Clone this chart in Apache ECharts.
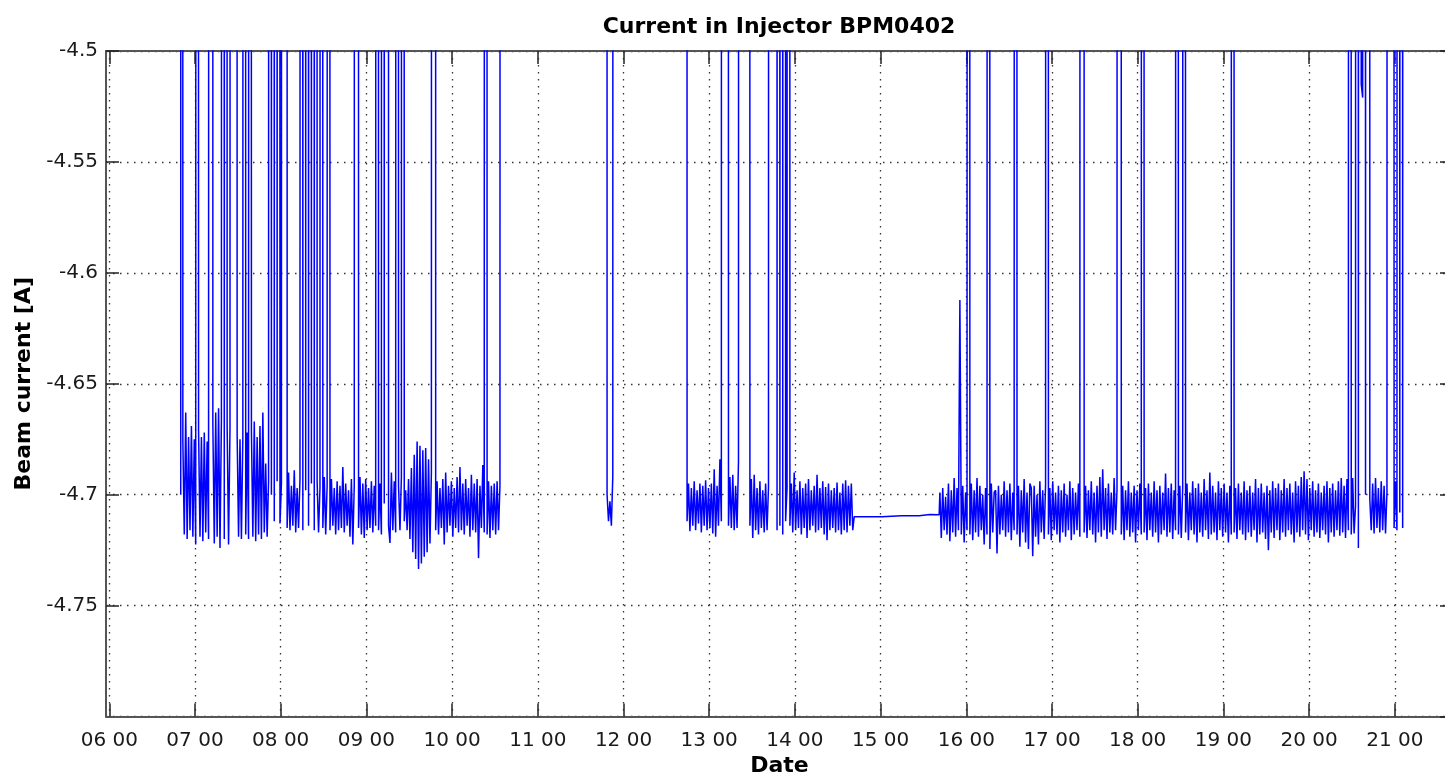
<!DOCTYPE html>
<html>
<head>
<meta charset="utf-8">
<title>Current in Injector BPM0402</title>
<script src="https://cdn.jsdelivr.net/npm/echarts@6/dist/echarts.min.js"></script>
<style>
  html, body { margin: 0; padding: 0; background: #fff; }
  #chart { width: 1445px; height: 775px; }
</style>
</head>
<body>
<div id="chart"></div>
<script>
// beam current samples, one per minute, each run starts at the time in runStarts
// 0 means the beam was off (drawn off the top of the plot)
const runStarts = ["06:50", "11:48", "12:44", "15:01", "15:27", "15:41"];

const morning = [
  -4.700, 0, -4.676, -4.718, -4.663, -4.720, -4.674, -4.716, -4.669, -4.719,
  -4.675, -4.7225, 0, -4.671, -4.719, -4.674, -4.721, -4.672, -4.717, -4.676,
  -4.720, 0, 0, -4.668, -4.722, -4.663, -4.719, -4.661, -4.724, -4.666,
  0, -4.720, 0, -4.669, -4.7225, -4.670, 0, 0, 0, 0,
  -4.673, -4.719, -4.675, -4.720, -4.674, 0, -4.718, -4.672, -4.720, 0,
  -4.671, -4.719, -4.667, -4.721, -4.674, -4.718, -4.669, -4.720, -4.663, -4.717,
  -4.686, -4.719, -4.694, 0, -4.700, 0, -4.712, 0, -4.694, 0,
  -4.713, -4.695, 0, 0, 0, -4.715, -4.690, -4.716, -4.696, -4.714,
  -4.689, -4.717, -4.697, -4.715, -4.693, 0, -4.716, 0, -4.698, 0,
  -4.714, 0, -4.695, 0, -4.716, 0, -4.694, -4.717, -4.697, 0,
  -4.715, -4.692, -4.718, -4.696, 0, -4.716, -4.693, -4.714, -4.697, -4.718,
  -4.694, -4.716, -4.696, -4.715, -4.6875, -4.717, -4.695, -4.714, -4.698, -4.719,
  -4.693, -4.7225, -4.696, 0, 0, -4.715, -4.692, -4.718, -4.695, -4.7195,
  -4.693, -4.716, -4.697, -4.715, -4.694, -4.717, -4.696, -4.714, 0, -4.716,
  -4.695, -4.718, 0, -4.704, 0, 0, -4.714, -4.7218, -4.690, -4.716,
  -4.694, -4.717, 0, -4.696, -4.716, -4.692, 0, -4.712, -4.698, -4.716,
  -4.693, -4.720, -4.688, -4.726, -4.682, -4.729, -4.676, -4.7335, -4.678, -4.731,
  -4.680, -4.728, -4.679, -4.726, -4.684, -4.722, -4.690, 0, 0, -4.716,
  -4.694, -4.718, -4.697, -4.715, -4.693, -4.7225, -4.690, -4.717, -4.696, -4.714,
  -4.694, -4.719, -4.697, -4.715, -4.692, -4.717, -4.6875, -4.716, -4.695, -4.718,
  -4.693, -4.714, -4.697, -4.719, -4.691, -4.716, -4.695, -4.717, -4.693, -4.7286,
  -4.696, -4.715, -4.6866, -4.717, 0, -4.718, -4.694, -4.7195, -4.696, -4.716,
  -4.695, -4.718, -4.694, -4.716, -4.696, 0
];

const noon = [0, -4.700, -4.712, -4.703, -4.714, -4.692, 0];

const afternoon = [
  0, -4.712, -4.695, -4.7165, -4.697, -4.714, -4.694, -4.716, -4.698, -4.713,
  -4.695, -4.717, -4.696, -4.714, -4.6935, -4.716, -4.697, -4.715, -4.695, -4.7175,
  -4.6885, -4.719, -4.696, -4.714, -4.684, -4.712, 0, 0, 0, 0,
  -4.714, -4.692, -4.715, -4.691, -4.716, -4.696, -4.715, -4.685, 0, 0,
  0, 0, 0, 0, 0, -4.714, -4.693, -4.7195, -4.691, -4.716,
  -4.697, -4.718, -4.694, -4.715, -4.698, -4.717, -4.695, -4.716, -4.697, 0,
  0, 0, 0, 0, -4.716, 0, -4.714, 0, -4.718, 0,
  -4.712, -4.697, 0, -4.714, -4.695, -4.717, -4.690, -4.716, -4.698, -4.715,
  -4.694, -4.718, -4.697, -4.715, -4.695, -4.7195, -4.693, -4.716, -4.698, -4.714,
  -4.696, -4.717, -4.691, -4.716, -4.697, -4.715, -4.694, -4.718, -4.6965, -4.7205,
  -4.695, -4.716, -4.698, -4.715, -4.697, -4.717, -4.6945, -4.716, -4.699, -4.718,
  -4.695, -4.716, -4.6935, -4.717, -4.696, -4.714, -4.695, -4.716, -4.7099
];

// only a few samples were logged between the afternoon and evening runs
const gapStart = [-4.7099, -4.7095];
const gapEnd = [-4.7095, -4.7089];

const evening = [
  -4.709, -4.699, -4.7195, -4.697, -4.716, -4.701, -4.718, -4.695, -4.721, -4.698,
  -4.717, -4.6925, -4.719, -4.697, -4.716, -4.6123, -4.718, -4.696, -4.7215, -4.699,
  -4.716, 0, -4.718, -4.695, -4.7205, -4.698, -4.717, -4.6925, -4.719, -4.696,
  -4.716, -4.700, -4.7225, -4.697, -4.718, 0, -4.7245, -4.695, -4.717, -4.699,
  -4.698, -4.7265, -4.696, -4.718, -4.700, -4.716, -4.694, -4.719, -4.698, -4.717,
  -4.695, -4.7205, -4.699, -4.716, 0, -4.718, -4.696, -4.7235, -4.698, -4.717,
  -4.693, -4.7215, -4.699, -4.7245, -4.695, -4.697, -4.7277, -4.696, -4.719, -4.700,
  -4.7225, -4.694, -4.717, -4.698, -4.720, -4.695, 0, -4.718, -4.697, -4.7205,
  -4.694, -4.716, -4.699, -4.718, -4.696, -4.7215, -4.698, -4.717, -4.695, -4.719,
  -4.700, -4.716, -4.694, -4.7205, -4.697, -4.718, -4.699, -4.716, -4.695, -4.719,
  0, 0, -4.717, -4.696, -4.7195, -4.698, -4.716, -4.694, -4.718, -4.699,
  -4.7215, -4.696, -4.717, -4.692, -4.719, -4.6885, -4.716, -4.697, -4.720, -4.695,
  -4.717, -4.699, -4.718, -4.6925, -4.716, -4.698, 0, 0, -4.718, -4.696,
  -4.7205, -4.698, -4.716, -4.694, -4.719, -4.699, -4.717, -4.696, -4.7215, -4.698,
  -4.716, -4.695, -4.718, 0, -4.717, -4.697, -4.7205, -4.695, -4.716, -4.699,
  -4.719, -4.694, -4.717, -4.698, -4.7215, -4.696, -4.718, -4.699, -4.716, -4.6905,
  -4.719, -4.697, -4.717, -4.695, -4.720, -4.698, -4.716, 0, -4.718, -4.696,
  -4.7195, -4.697, 0, -4.717, -4.695, -4.7205, -4.699, -4.716, -4.694, -4.718,
  -4.697, -4.7215, -4.695, -4.717, -4.699, -4.719, -4.693, -4.716, -4.698, -4.720,
  -4.690, -4.718, -4.696, -4.717, -4.699, -4.7205, -4.694, -4.716, -4.697, -4.719,
  -4.695, -4.717, -4.699, -4.7215, -4.696, -4.718, 0, -4.717, -4.697, -4.720,
  -4.695, -4.716, -4.699, -4.718, -4.694, -4.7205, -4.698, -4.717, -4.696, -4.719,
  -4.699, -4.716, -4.693, -4.7215, -4.697, -4.718, -4.695, -4.717, -4.699, -4.720,
  -4.696, -4.725, -4.698, -4.717, -4.694, -4.7195, -4.697, -4.716, -4.695, -4.7205,
  -4.698, -4.717, -4.693, -4.719, -4.697, -4.716, -4.695, -4.718, -4.699, -4.7215,
  -4.694, -4.717, -4.696, -4.719, -4.692, -4.716, -4.6894, -4.718, -4.693, -4.7205,
  -4.697, -4.716, -4.694, -4.719, -4.698, -4.717, -4.695, -4.7195, -4.699, -4.716,
  -4.696, -4.718, -4.694, -4.7215, -4.697, -4.717, -4.695, -4.719, -4.698, -4.716,
  -4.694, -4.7185, -4.6925, -4.717, -4.696, -4.7195, -4.693, -4.716, 0, -4.718,
  -4.6925, -4.7175, -4.705, 0, -4.724, 0, -4.515, -4.521, 0, -4.700,
  0, 0, -4.702, -4.716, -4.695, -4.7175, -4.6925, -4.715, -4.697, -4.717,
  -4.694, -4.716, -4.696, -4.7175, -4.699, 0, 0, 0, 0, -4.715,
  -4.694, -4.716, 0, -4.708, 0, -4.715, 0
];

const hourTicks = [6, 7, 8, 9, 10, 11, 12, 13, 14, 15, 16, 17, 18, 19, 20, 21];

const runs = [morning, noon, afternoon, gapStart, gapEnd, evening];

// x in hours of the day
const points = [];
runs.forEach((vals, k) => {
  const [hh, mm] = runStarts[k].split(":").map(Number);
  vals.forEach((v, i) => {
    points.push([hh + (mm + i) / 60, v]);
  });
});

const font = "DejaVu Sans";
const tickStyle = { color: "#222", width: 1.5 };
const boxLine = { show: true, onZero: false, lineStyle: { color: "#555", width: 2 } };
const dots = { show: true, lineStyle: { type: [1.5, 5.5], color: "#333", width: 1.3 } };

const chart = echarts.init(document.getElementById("chart"));
chart.setOption({
  animation: false,
  backgroundColor: "#fff",
  title: {
    text: "Current in Injector BPM0402",
    left: 779,
    top: 16,
    padding: 0,
    textAlign: "center",
    textStyle: { fontFamily: font, fontWeight: "bold", fontSize: 22, color: "#000" }
  },
  grid: { left: 106, right: -8, top: 51, bottom: 58.5, outerBoundsMode: "none" },
  xAxis: [
    {
      type: "value",
      min: 5.9615,
      max: 21.679,
      name: "Date",
      nameLocation: "middle",
      nameGap: 39,
      nameTextStyle: { fontFamily: font, fontWeight: "bold", fontSize: 22, color: "#000" },
      axisLine: boxLine,
      axisTick: { show: true, inside: true, length: 13, customValues: hourTicks, lineStyle: tickStyle },
      axisLabel: {
        customValues: hourTicks,
        formatter: v => String(v).padStart(2, "0") + " 00",
        fontFamily: font,
        fontSize: 20,
        color: "#1a1a1a",
        margin: 14
      },
      splitLine: dots
    },
    {
      type: "value",
      position: "top",
      min: 5.9615,
      max: 21.679,
      axisLine: boxLine,
      axisTick: { show: true, inside: true, length: 13, customValues: hourTicks, lineStyle: tickStyle },
      axisLabel: { show: false },
      splitLine: { show: false }
    }
  ],
  yAxis: [
    {
      type: "value",
      min: -4.8,
      max: -4.5,
      interval: 0.05,
      name: "Beam current [A]",
      nameLocation: "middle",
      nameRotate: 90,
      nameGap: 70,
      nameTextStyle: { fontFamily: font, fontWeight: "bold", fontSize: 22, color: "#000" },
      axisLine: boxLine,
      axisTick: { show: true, inside: true, length: 13, lineStyle: tickStyle },
      axisLabel: {
        showMinLabel: false,
        fontFamily: font,
        fontSize: 20,
        color: "#1a1a1a",
        margin: 8
      },
      splitLine: dots
    },
    {
      type: "value",
      position: "right",
      min: -4.8,
      max: -4.5,
      interval: 0.05,
      axisLine: boxLine,
      axisTick: { show: true, inside: true, length: 13, lineStyle: tickStyle },
      axisLabel: { show: false },
      splitLine: { show: false }
    }
  ],
  series: [
    {
      type: "line",
      data: points,
      xAxisIndex: 0,
      yAxisIndex: 0,
      step: "middle",
      showSymbol: false,
      symbol: "none",
      clip: true,
      silent: true,
      lineStyle: { color: "#0000ff", width: 1.5 }
    }
  ]
});
</script>
</body>
</html>
